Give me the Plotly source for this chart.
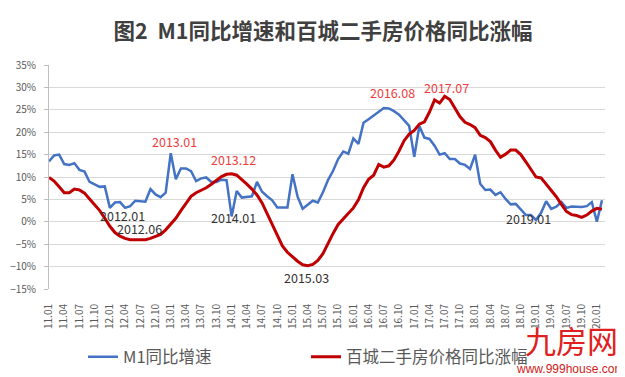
import plotly.graph_objects as go

# Months 2011.01 .. 2020.02
months = [f"{y}.{m:02d}" for y in range(2011, 2021) for m in range(1, 13)][:110]
tick_labels = [f"{y % 100:02d}.{m:02d}" for y in range(2011, 2021) for m in (1, 4, 7, 10)][:37]

m1_yoy = [
    13.5, 14.8, 15.0, 12.9, 12.7, 13.1, 11.6, 11.2, 8.9, 8.4, 7.8, 7.9,      # 2011
    3.1, 4.3, 4.4, 3.1, 3.5, 4.7, 4.6, 4.5, 7.3, 6.1, 5.5, 6.5,              # 2012
    15.3, 9.5, 11.9, 11.9, 11.3, 9.1, 9.7, 9.9, 8.9, 8.9, 9.4, 9.3,          # 2013
    1.2, 6.9, 5.4, 5.5, 5.7, 8.9, 6.7, 5.7, 4.8, 3.2, 3.2, 3.2,              # 2014
    10.6, 5.6, 2.9, 3.7, 4.7, 4.3, 6.6, 9.3, 11.4, 14.0, 15.7, 15.2,         # 2015
    18.6, 17.4, 22.1, 22.9, 23.7, 24.6, 25.4, 25.3, 24.7, 23.9, 22.7, 21.4,  # 2016
    14.5, 21.4, 18.8, 18.5, 17.0, 15.0, 15.3, 14.0, 14.0, 13.0, 12.7, 11.8,  # 2017
    15.0, 8.5, 7.1, 7.2, 6.0, 6.6, 5.1, 3.9, 4.0, 2.7, 1.5, 1.5,             # 2018
    0.4, 2.0, 4.6, 2.9, 3.4, 4.4, 3.1, 3.4, 3.4, 3.3, 3.5, 4.4,              # 2019
    0.0, 4.8,                                                                # 2020
]

house_yoy = [
    9.9, 9.1, 7.8, 6.5, 6.5, 7.3, 7.1, 6.4, 5.1, 3.9, 2.5, 0.8,              # 2011
    -1.0, -2.4, -3.2, -3.7, -4.0, -4.0, -4.0, -4.0, -3.7, -3.3, -2.8, -1.8,  # 2012
    -0.6, 0.8, 2.5, 4.2, 5.7, 6.5, 7.1, 7.6, 8.4, 9.2, 10.1, 10.6,           # 2013
    10.7, 10.4, 9.5, 8.4, 7.3, 6.0, 4.2, 1.8, -0.6, -3.2, -5.4, -6.8,        # 2014
    -7.9, -8.8, -9.6, -9.8, -9.5, -8.6, -7.1, -4.7, -2.6, -0.6, 0.7, 1.9,    # 2015
    3.1, 4.9, 7.6, 9.5, 10.4, 12.8, 12.2, 12.5, 13.8, 15.8, 18.1, 19.6,      # 2016
    20.4, 21.8, 22.3, 24.5, 27.2, 26.5, 28.0, 27.3, 25.3, 23.5, 22.2, 21.7,  # 2017
    21.0, 19.3, 18.8, 17.9, 16.0, 14.4, 15.1, 16.0, 16.0, 15.0, 13.4, 11.8,  # 2018
    10.0, 9.8, 8.4, 7.1, 5.6, 3.9, 2.3, 1.6, 1.4, 1.0, 1.5, 2.4,             # 2019
    3.0, 2.8,                                                                # 2020
]

series_names = ["M1同比增速", "百城二手房价格同比涨幅"]
title_text = "图2  M1同比增速和百城二手房价格同比涨幅"

# annotation labels (text, x in month index, y in %, colour)
notes = [
    ("2012.01", 14.4, 1.4, "#333333"),
    ("2012.06", 17.9, -1.5, "#333333"),
    ("2013.01", 24.7, 18.0, "#F03C3C"),
    ("2013.12", 36.3, 13.9, "#F03C3C"),
    ("2014.01", 36.3, 1.0, "#333333"),
    ("2015.03", 50.7, -12.4, "#333333"),
    ("2016.08", 67.7, 28.9, "#F03C3C"),
    ("2017.07", 78.3, 30.0, "#F03C3C"),
    ("2019.01", 94.5, 0.7, "#333333"),
]

FONT = "Noto Sans CJK SC, Noto Sans, sans-serif"
# the page body adds an 8px margin, so the figure is 8px smaller than the window
OFF = 8
W, H = 625 - OFF, 377 - OFF
L, R, T, B = 49 - OFF, 20, 65 - OFF, 88
idx = list(range(len(months)))

fig = go.Figure()
fig.add_trace(go.Scatter(x=idx, y=m1_yoy, mode="lines", name=series_names[0],
                         line=dict(color="#4472C4", width=2.5)))
fig.add_trace(go.Scatter(x=idx, y=house_yoy, mode="lines", name=series_names[1],
                         line=dict(color="#C00000", width=3)))

for t, x, y, c in notes:
    fig.add_annotation(x=x, y=y, text=t, showarrow=False, xref="x", yref="y",
                       font=dict(family=FONT, size=12.5, color=c))


def px2paper(px, py):
    """window pixel -> paper coordinates of the plot area"""
    fx, fy = px - OFF, py - OFF
    return (fx - L) / (W - L - R), (H - B - fy) / (H - T - B)


wx, wy = px2paper(571, 339)
fig.add_annotation(x=wx, y=wy, xref="paper", yref="paper", xanchor="center", yanchor="middle",
                   text="九房网", showarrow=False,
                   font=dict(family=FONT, size=31, color="#E02020"))
wx2, wy2 = px2paper(570, 369)
fig.add_annotation(x=wx2, y=wy2, xref="paper", yref="paper", xanchor="center", yanchor="middle",
                   text="www.999house.com", showarrow=False,
                   font=dict(family="Liberation Sans", size=12, color="#D02020"))

fig.update_layout(
    width=W, height=H,
    margin=dict(l=L, r=R, t=T, b=B, autoexpand=False),
    paper_bgcolor="white", plot_bgcolor="white",
    font=dict(family=FONT, color="#595959"),
    title=dict(text="<b>" + title_text + "</b>", x=(323 - OFF) / W, xanchor="center",
               xref="container", y=1 - (31 - OFF) / H, yanchor="middle", yref="container",
               font=dict(family=FONT, size=21.5, color="#404040")),
    showlegend=True,
    legend=dict(orientation="h", x=(83 - OFF) / W, xanchor="left", xref="container",
                y=1 - (357 - OFF) / H, yanchor="middle", yref="container",
                font=dict(family=FONT, size=16.5, color="#595959"),
                entrywidth=178, entrywidthmode="pixels", bgcolor="rgba(0,0,0,0)"),
    xaxis=dict(range=[0, 109.6], tickmode="array", tickvals=list(range(0, 109, 3)),
               ticktext=tick_labels, tickangle=-90, showgrid=False, zeroline=False,
               showline=False, ticks="", automargin=False, ticklabelstandoff=12,
               tickfont=dict(family=FONT, size=10, color="#595959")),
    yaxis=dict(range=[-15, 35], dtick=5, ticksuffix="%", showgrid=True, gridcolor="#D9D9D9",
               gridwidth=1, zeroline=False, showline=True, linecolor="#BFBFBF", linewidth=1,
               ticks="outside", ticklen=4, tickcolor="#BFBFBF", automargin=False,
               ticklabelstandoff=6,
               tickfont=dict(family=FONT, size=10, color="#595959")),
)

fig.write_html("out.html")
